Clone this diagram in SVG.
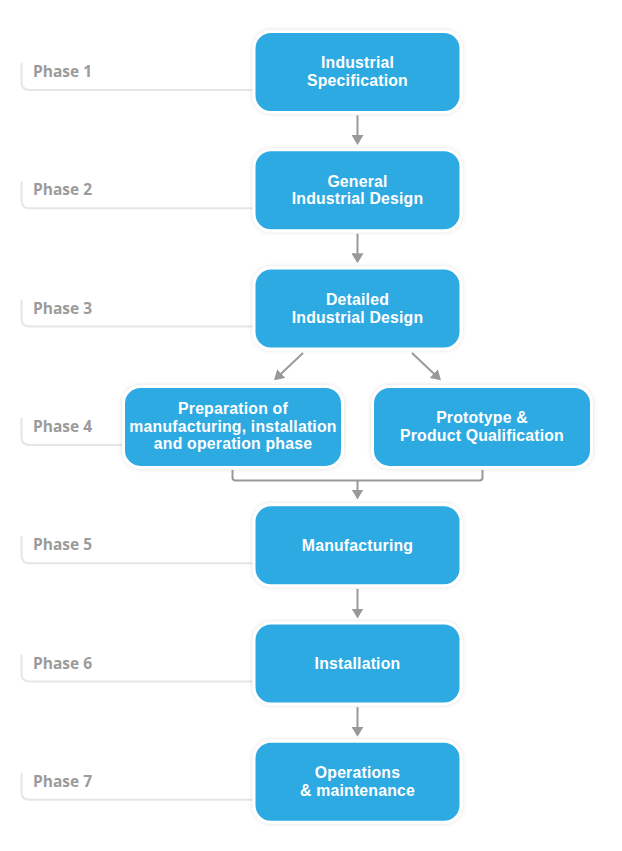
<svg xmlns="http://www.w3.org/2000/svg" width="622" height="851" viewBox="0 0 622 851">
  <style>
    .box { fill: #2DAAE3; stroke: #ffffff; stroke-width: 3; filter: url(#sh); }
    .lbl { font-family: "Liberation Sans", Arial, sans-serif; font-weight: 700; font-size: 15.8px; letter-spacing: 0.2px; fill: #ffffff; text-anchor: middle; }
    .ph { font-family: "Open Sans", "Noto Sans", "DejaVu Sans", sans-serif; font-weight: 700; font-size: 15.5px; fill: #9b9b9b; }
    .br { fill: none; stroke: #e6e6e6; stroke-width: 2; }
    .ar { fill: none; stroke: #999999; stroke-width: 2; marker-end: url(#ah); }
    .mg { fill: none; stroke: #999999; stroke-width: 2; }
  </style>
  <defs>
    <filter id="sh" x="-10%" y="-20%" width="120%" height="140%">
      <feDropShadow dx="0" dy="0" stdDeviation="2.2" flood-color="#000000" flood-opacity="0.13"/>
    </filter>
    <marker id="ah" markerUnits="userSpaceOnUse" viewBox="0 0 10 12" refX="8" refY="6" markerWidth="10" markerHeight="12" orient="auto">
      <path d="M0,0 L10,6 L0,12 z" fill="#999999"/>
    </marker>
  </defs>
  <rect width="622" height="851" fill="#ffffff"/>

  <g id="phases">
    <path class="br" d="M21.5,63 V82 Q21.5,90 29.5,90 H256"/>
    <text class="ph" x="33" y="77">Phase 1</text>
    <path class="br" d="M21.5,181.3 V200.3 Q21.5,208.3 29.5,208.3 H256"/>
    <text class="ph" x="33" y="195.3">Phase 2</text>
    <path class="br" d="M21.5,299.6 V318.6 Q21.5,326.6 29.5,326.6 H256"/>
    <text class="ph" x="33" y="313.6">Phase 3</text>
    <path class="br" d="M21.5,417.9 V436.9 Q21.5,444.9 29.5,444.9 H126"/>
    <text class="ph" x="33" y="431.9">Phase 4</text>
    <path class="br" d="M21.5,536.2 V555.2 Q21.5,563.2 29.5,563.2 H256"/>
    <text class="ph" x="33" y="550.2">Phase 5</text>
    <path class="br" d="M21.5,654.5 V673.5 Q21.5,681.5 29.5,681.5 H256"/>
    <text class="ph" x="33" y="668.5">Phase 6</text>
    <path class="br" d="M21.5,772.8 V791.8 Q21.5,799.8 29.5,799.8 H256"/>
    <text class="ph" x="33" y="786.8">Phase 7</text>
  </g>

  <g id="connectors">
    <line class="ar" x1="357.5" y1="115.5" x2="357.5" y2="143"/>
    <line class="ar" x1="357.5" y1="233.8" x2="357.5" y2="261.3"/>
    <path class="ar" d="M303,353 L275.5,379"/>
    <path class="ar" d="M412,353 L439.5,379"/>
    <path class="mg" d="M232.5,470 V477.5 Q232.5,480.5 235.5,480.5 H479.5 Q482.5,480.5 482.5,477.5 V470"/>
    <line class="ar" x1="357.5" y1="480.5" x2="357.5" y2="497.5"/>
    <line class="ar" x1="357.5" y1="588.9" x2="357.5" y2="616.5"/>
    <line class="ar" x1="357.5" y1="707.2" x2="357.5" y2="734.8"/>
  </g>

  <g id="n1">
    <rect class="box" x="254" y="31.5" width="207" height="81" rx="17"/>
    <text class="lbl" x="357.5" y="68.3">Industrial<tspan x="357.5" dy="17.7">Specification</tspan></text>
  </g>
  <g id="n2">
    <rect class="box" x="254" y="149.8" width="207" height="81" rx="17"/>
    <text class="lbl" x="357.5" y="186.6">General<tspan x="357.5" dy="17.7">Industrial Design</tspan></text>
  </g>
  <g id="n3">
    <rect class="box" x="254" y="268.1" width="207" height="81" rx="17"/>
    <text class="lbl" x="357.5" y="305">Detailed<tspan x="357.5" dy="17.7">Industrial Design</tspan></text>
  </g>
  <g id="n4a">
    <rect class="box" x="123.5" y="386.4" width="219" height="81" rx="17"/>
    <text class="lbl" x="233" y="414">Preparation of<tspan x="233" dy="17.7">manufacturing, installation</tspan><tspan x="233" dy="17.7">and operation phase</tspan></text>
  </g>
  <g id="n4b">
    <rect class="box" x="372.5" y="386.4" width="219" height="81" rx="17"/>
    <text class="lbl" x="482" y="423">Prototype &amp;<tspan x="482" dy="17.7">Product Qualification</tspan></text>
  </g>
  <g id="n5">
    <rect class="box" x="254" y="504.7" width="207" height="81" rx="17"/>
    <text class="lbl" x="357.5" y="550.5">Manufacturing</text>
  </g>
  <g id="n6">
    <rect class="box" x="254" y="623" width="207" height="81" rx="17"/>
    <text class="lbl" x="357.5" y="668.8">Installation</text>
  </g>
  <g id="n7">
    <rect class="box" x="254" y="741.3" width="207" height="81" rx="17"/>
    <text class="lbl" x="357.5" y="778.1">Operations<tspan x="357.5" dy="17.7">&amp; maintenance</tspan></text>
  </g>
</svg>
